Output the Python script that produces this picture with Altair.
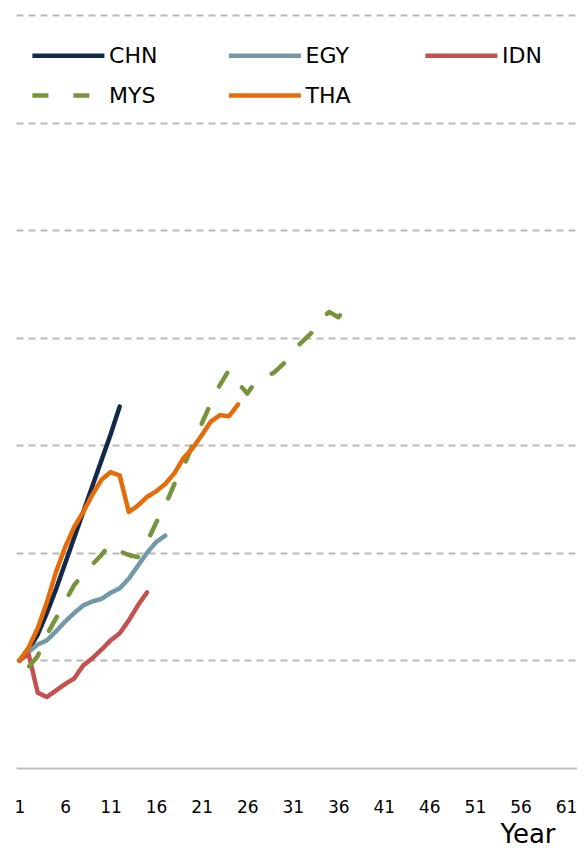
import altair as alt
import pandas as pd

countries = ["CHN", "EGY", "IDN", "MYS", "THA"]
colors = ["#13294b", "#7399a8", "#c4504f", "#77933c", "#e46c0a"]
widths = [4.5, 4.5, 4.5, 5, 6.5]
dashes = [[1, 0], [1, 0], [1, 0], [16, 25], [1, 0]]

CHN = [100, 105, 112, 122, 133, 145, 157, 169, 181, 193, 205, 218]
EGY = [100, 104, 107.4, 109.3, 113.5, 118, 122, 125.6, 127.4, 128.6, 131.4, 133.5,
       138, 144, 150, 155, 158]
IDN = [100, 103, 85, 83, 86, 89, 91.6, 97.7, 101, 105, 109.3, 112.6, 118.6, 125.6, 131.6]
MYS = [100, 97, 102, 112, 119.5, 127.4, 135, 140, 144.6, 149, 154.4, 150.7, 149, 148,
       155, 164, 172, 182, 190, 200, 210, 219.5, 228, 235, 229, 224, 230, 231.6, 234,
       238, 244, 248, 252, 258, 262, 259.5, 264.6]
THA = [100, 106, 115, 127, 141, 152.5, 162, 169, 177, 184, 187.5, 186, 169, 172, 176,
       178.6, 182, 187, 194, 198.6, 204.6, 211, 214, 213.5, 219]

x_ticks = list(range(1, 62, 5))
y_grid = [100, 150, 200, 250, 300, 350, 400]

series = {"CHN": CHN, "EGY": EGY, "IDN": IDN, "MYS": MYS, "THA": THA}
rows = []
for c in countries:
    for i, v in enumerate(series[c]):
        rows.append({"country": c, "year": i + 1, "value": v})
df = pd.DataFrame(rows)

FONT = "DejaVu Sans"

leg = alt.Legend(
    title=None,
    orient="none",
    legendX=31.9,
    legendY=20,
    direction="horizontal",
    columns=3,
    columnPadding=61.5,
    rowPadding=8,
    symbolType="M-2,0L2,0",
    symbolSize=1296,
    labelFontSize=22,
    labelFont=FONT,
    labelColor="#000000",
    labelOffset=20.2,
    padding=0,
    gridAlign="all",
)

chart = alt.Chart(df).mark_line(
    strokeCap="round", strokeJoin="round", strokeDashOffset=29
).encode(
    x=alt.X(
        "year:Q",
        scale=alt.Scale(domain=[0.616, 62.21], nice=False, zero=False),
        axis=alt.Axis(
            values=x_ticks,
            title="Year",
            grid=False,
            ticks=False,
            domainColor="#bfbfbf",
            domainWidth=2,
            labelFont=FONT,
            labelFontSize=17,
            labelColor="#000000",
            labelPadding=31,
            labelFlush=False,
            titleFont=FONT,
            titleFontSize=26,
            titleFontWeight="normal",
            titleColor="#000000",
            titleAlign="right",
            titleBaseline="alphabetic",
            titleX=539,
            titleY=74,
        ),
    ),
    y=alt.Y(
        "value:Q",
        scale=alt.Scale(domain=[50, 400], nice=False, zero=False),
        axis=alt.Axis(
            values=y_grid,
            title=None,
            labels=False,
            ticks=False,
            domain=False,
            grid=True,
            gridDash=[7, 5],
            gridColor="#b8b8b8",
            gridWidth=2,
        ),
    ),
    color=alt.Color("country:O", scale=alt.Scale(domain=countries, range=colors), legend=leg),
    strokeDash=alt.StrokeDash("country:O", scale=alt.Scale(domain=countries, range=dashes), legend=leg),
    strokeWidth=alt.StrokeWidth("country:O", scale=alt.Scale(domain=countries, range=widths), legend=leg),
).properties(
    width=561,
    height=753,
    padding={"left": 8, "top": 7, "right": 0, "bottom": 80},
    autosize=alt.AutoSizeParams(type="none"),
    background="#ffffff",
).configure_view(stroke=None)

chart.save("out.html", embed_options={"renderer": "svg", "actions": False})
